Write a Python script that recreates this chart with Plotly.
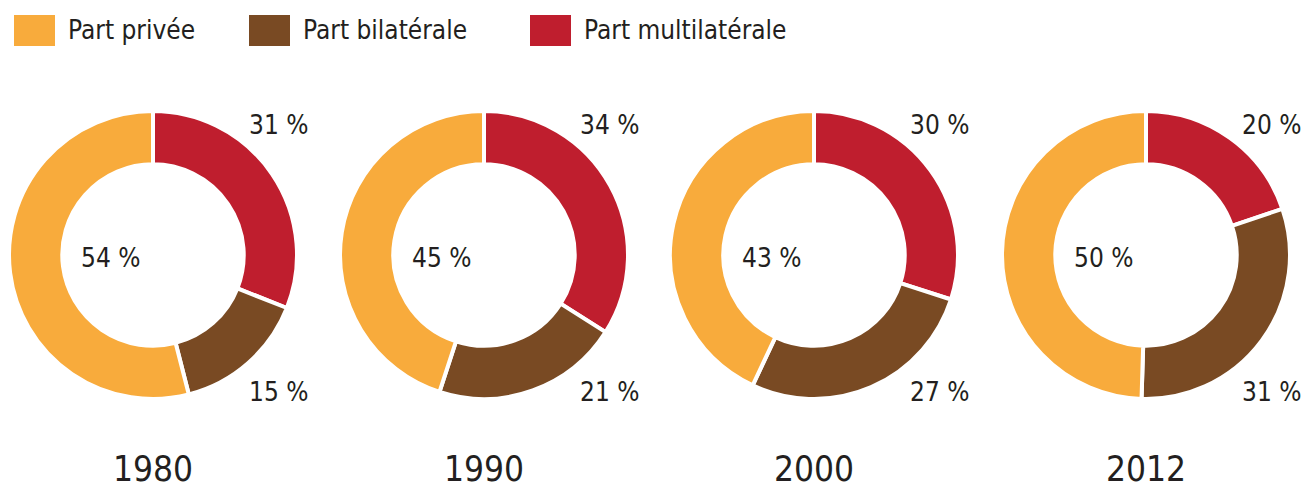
import plotly.graph_objects as go

# ---- data ----
years = ["1980", "1990", "2000", "2012"]
categories = ["Part multilatérale", "Part bilatérale", "Part privée"]
multilaterale = [31, 34, 30, 20]
bilaterale = [15, 21, 27, 31]
privee = [54, 45, 43, 50]
legend_order = ["Part privée", "Part bilatérale", "Part multilatérale"]

colors = {"Part privée": "#F8AB3C", "Part bilatérale": "#794A23", "Part multilatérale": "#BF1E2E"}

W, H = 1307, 488
centers_x = [153, 484, 814, 1146]
cy = 255
R = 144
TXT = "#231F20"
FONT = "DejaVu Sans Condensed, Roboto, sans-serif"

def px(x):
    return x / W

def py(y):
    return 1 - y / H

fig = go.Figure()
annotations = []
for i, yr in enumerate(years):
    cx = centers_x[i]
    vals = [multilaterale[i], bilaterale[i], privee[i]]
    fig.add_trace(go.Pie(
        labels=categories,
        values=vals,
        hole=0.63,
        sort=False,
        direction="clockwise",
        rotation=0,
        marker=dict(colors=[colors[c] for c in categories], line=dict(color="white", width=4)),
        textinfo="none",
        hoverinfo="label+value",
        showlegend=False,
        domain=dict(x=[px(cx - R), px(cx + R)], y=[py(cy + R), py(cy - R)]),
    ))
    annotations.append(dict(x=px(cx + 125), y=py(125), text=f"{vals[0]} %"))
    annotations.append(dict(x=px(cx + 125), y=py(392), text=f"{vals[1]} %"))
    annotations.append(dict(x=px(cx - 43), y=py(258), text=f"{vals[2]} %"))
    annotations.append(dict(x=px(cx), y=py(469), text=yr,
                            font=dict(size=35, color=TXT, family=FONT)))

for a in annotations:
    a.setdefault("font", dict(size=26, color=TXT, family=FONT))
    a.update(xref="paper", yref="paper", showarrow=False, xanchor="center", yanchor="middle")

# legend (manual, large swatches)
shapes = []
legend_x = [14, 249, 530]
for lx, name in zip(legend_x, legend_order):
    shapes.append(dict(type="rect", xref="paper", yref="paper",
                       x0=px(lx), x1=px(lx + 41), y0=py(46), y1=py(15),
                       fillcolor=colors[name], line=dict(width=0)))
    annotations.append(dict(xref="paper", yref="paper", x=px(lx + 52), y=py(30), text=name,
                            showarrow=False, xanchor="left", yanchor="middle",
                            font=dict(size=26, color=TXT, family=FONT)))

fig.update_layout(
    width=W, height=H,
    margin=dict(l=0, r=0, t=0, b=0),
    paper_bgcolor="white", plot_bgcolor="white",
    annotations=annotations, shapes=shapes,
    showlegend=False,
)

fig.write_html("out.html",
               config={"displayModeBar": False},
               post_script="document.body.style.margin='0';document.body.style.overflow='hidden';")
